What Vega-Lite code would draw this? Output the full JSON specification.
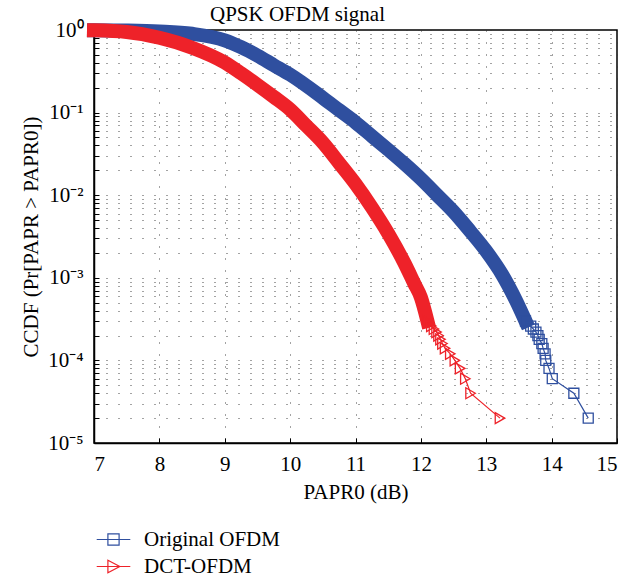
{
  "$schema": "https://vega.github.io/schema/vega-lite/v6.json",
  "width": 523,
  "height": 413,
  "autosize": {"type": "none"},
  "padding": {"left": 94, "top": 30, "right": 26, "bottom": 141},
  "background": "white",
  "config": {
    "font": "Liberation Serif",
    "view": {"stroke": "black", "strokeWidth": 1.5},
    "axis": {
      "domainColor": "black",
      "domainWidth": 1.5,
      "tickColor": "black",
      "tickSize": -5,
      "labelFont": "Liberation Serif",
      "labelFontSize": 21,
      "labelColor": "black",
      "titleFont": "Liberation Serif",
      "titleFontSize": 21,
      "titleFontWeight": "normal",
      "titleColor": "black",
      "grid": true,
      "gridColor": "#333333",
      "gridDash": [1, 11],
      "gridWidth": 1,
      "gridOpacity": 0.9
    }
  },
  "title": {"text": "QPSK OFDM signal", "fontSize": 21, "fontWeight": "normal", "font": "Liberation Serif", "color": "black", "offset": 7, "dy": 13, "dx": -58},
  "datasets": {
    "ccdf": [
      {"series": "Original OFDM", "papr": 7.0, "ccdf": 0.995},
      {"series": "Original OFDM", "papr": 7.5, "ccdf": 0.986},
      {"series": "Original OFDM", "papr": 8.0, "ccdf": 0.96},
      {"series": "Original OFDM", "papr": 8.5, "ccdf": 0.9},
      {"series": "Original OFDM", "papr": 9.0, "ccdf": 0.75},
      {"series": "Original OFDM", "papr": 9.25, "ccdf": 0.62},
      {"series": "Original OFDM", "papr": 9.5, "ccdf": 0.49},
      {"series": "Original OFDM", "papr": 9.75, "ccdf": 0.375},
      {"series": "Original OFDM", "papr": 10.0, "ccdf": 0.288},
      {"series": "Original OFDM", "papr": 10.5, "ccdf": 0.151},
      {"series": "Original OFDM", "papr": 10.75, "ccdf": 0.107},
      {"series": "Original OFDM", "papr": 11.0, "ccdf": 0.076},
      {"series": "Original OFDM", "papr": 11.25, "ccdf": 0.052},
      {"series": "Original OFDM", "papr": 11.5, "ccdf": 0.0355},
      {"series": "Original OFDM", "papr": 11.75, "ccdf": 0.024},
      {"series": "Original OFDM", "papr": 12.0, "ccdf": 0.0158},
      {"series": "Original OFDM", "papr": 12.25, "ccdf": 0.01},
      {"series": "Original OFDM", "papr": 12.5, "ccdf": 0.0063},
      {"series": "Original OFDM", "papr": 12.75, "ccdf": 0.0037},
      {"series": "Original OFDM", "papr": 13.0, "ccdf": 0.0021},
      {"series": "Original OFDM", "papr": 13.25, "ccdf": 0.00107},
      {"series": "Original OFDM", "papr": 13.45, "ccdf": 0.00054},
      {"series": "Original OFDM", "papr": 13.6, "ccdf": 0.0003},
      {"series": "Original OFDM", "papr": 13.68, "ccdf": 0.00026},
      {"series": "Original OFDM", "papr": 13.72, "ccdf": 0.00024},
      {"series": "Original OFDM", "papr": 13.76, "ccdf": 0.00022},
      {"series": "Original OFDM", "papr": 13.79, "ccdf": 0.0002},
      {"series": "Original OFDM", "papr": 13.81, "ccdf": 0.00018},
      {"series": "Original OFDM", "papr": 13.85, "ccdf": 0.00016},
      {"series": "Original OFDM", "papr": 13.87, "ccdf": 0.00014},
      {"series": "Original OFDM", "papr": 13.9, "ccdf": 0.00012},
      {"series": "Original OFDM", "papr": 13.91, "ccdf": 0.0001},
      {"series": "Original OFDM", "papr": 13.96, "ccdf": 0.00008},
      {"series": "Original OFDM", "papr": 14.01, "ccdf": 0.00006},
      {"series": "Original OFDM", "papr": 14.34, "ccdf": 0.00004},
      {"series": "Original OFDM", "papr": 14.56, "ccdf": 0.00002},
      {"series": "DCT-OFDM", "papr": 7.0, "ccdf": 0.99},
      {"series": "DCT-OFDM", "papr": 7.5, "ccdf": 0.946},
      {"series": "DCT-OFDM", "papr": 8.0, "ccdf": 0.805},
      {"series": "DCT-OFDM", "papr": 8.5, "ccdf": 0.611},
      {"series": "DCT-OFDM", "papr": 9.0, "ccdf": 0.404},
      {"series": "DCT-OFDM", "papr": 9.25, "ccdf": 0.299},
      {"series": "DCT-OFDM", "papr": 9.5, "ccdf": 0.217},
      {"series": "DCT-OFDM", "papr": 9.75, "ccdf": 0.155},
      {"series": "DCT-OFDM", "papr": 10.0, "ccdf": 0.109},
      {"series": "DCT-OFDM", "papr": 10.25, "ccdf": 0.069},
      {"series": "DCT-OFDM", "papr": 10.5, "ccdf": 0.0433},
      {"series": "DCT-OFDM", "papr": 10.75, "ccdf": 0.0245},
      {"series": "DCT-OFDM", "papr": 11.0, "ccdf": 0.0137},
      {"series": "DCT-OFDM", "papr": 11.25, "ccdf": 0.0071},
      {"series": "DCT-OFDM", "papr": 11.5, "ccdf": 0.00344},
      {"series": "DCT-OFDM", "papr": 11.75, "ccdf": 0.0015},
      {"series": "DCT-OFDM", "papr": 11.9, "ccdf": 0.00085},
      {"series": "DCT-OFDM", "papr": 12.0, "ccdf": 0.00058},
      {"series": "DCT-OFDM", "papr": 12.1, "ccdf": 0.0003},
      {"series": "DCT-OFDM", "papr": 12.16, "ccdf": 0.00026},
      {"series": "DCT-OFDM", "papr": 12.2, "ccdf": 0.00024},
      {"series": "DCT-OFDM", "papr": 12.24, "ccdf": 0.00022},
      {"series": "DCT-OFDM", "papr": 12.27, "ccdf": 0.0002},
      {"series": "DCT-OFDM", "papr": 12.3, "ccdf": 0.00018},
      {"series": "DCT-OFDM", "papr": 12.33, "ccdf": 0.00016},
      {"series": "DCT-OFDM", "papr": 12.37, "ccdf": 0.00014},
      {"series": "DCT-OFDM", "papr": 12.45, "ccdf": 0.00012},
      {"series": "DCT-OFDM", "papr": 12.52, "ccdf": 0.0001},
      {"series": "DCT-OFDM", "papr": 12.6, "ccdf": 0.00008},
      {"series": "DCT-OFDM", "papr": 12.68, "ccdf": 0.00006},
      {"series": "DCT-OFDM", "papr": 12.76, "ccdf": 0.00004},
      {"series": "DCT-OFDM", "papr": 13.21, "ccdf": 0.00002}
    ]
  },
  "data": {"name": "ccdf"},
  "encoding": {
    "x": {
      "field": "papr",
      "type": "quantitative",
      "scale": {"domain": [7, 15], "nice": false, "zero": false},
      "axis": {"title": "PAPR0 (dB)", "values": [7, 8, 9, 10, 11, 12, 13, 14, 15], "labelPadding": 15, "titlePadding": 7}
    },
    "y": {
      "field": "ccdf",
      "type": "quantitative",
      "scale": {"type": "log", "domain": [0.00001, 1], "nice": false},
      "axis": {
        "title": "CCDF (Pr[PAPR > PAPR0])",
        "titlePadding": 6,
        "labelPadding": 16,
        "labelOverlap": false,
        "values": [0.00001, 0.00002, 0.00003, 0.00004, 0.00005, 0.00006, 0.00007, 0.00008, 0.00009, 0.0001, 0.0002, 0.0003, 0.0004, 0.0005, 0.0006, 0.0007, 0.0008, 0.0009, 0.001, 0.002, 0.003, 0.004, 0.005, 0.006, 0.007, 0.008, 0.009, 0.01, 0.02, 0.03, 0.04, 0.05, 0.06, 0.07, 0.08, 0.09, 0.1, 0.2, 0.3, 0.4, 0.5, 0.6, 0.7, 0.8, 0.9, 1],
        "labelExpr": "abs(log(datum.value)/LN10 - round(log(datum.value)/LN10)) < 1e-6 ? '10' + ['⁰','⁻¹','⁻²','⁻³','⁻⁴','⁻⁵'][-round(log(datum.value)/LN10)] : ''"
      }
    },
    "color": {
      "field": "series",
      "type": "nominal",
      "scale": {"domain": ["Original OFDM", "DCT-OFDM"], "range": ["#2f4f9f", "#ee2229"]},
      "legend": {
        "title": null,
        "orient": "none",
        "legendX": 9,
        "legendY": 499,
        "direction": "vertical",
        "labelFont": "Liberation Serif",
        "labelFontSize": 21,
        "labelColor": "black",
        "symbolSize": 196,
        "symbolStrokeWidth": 1.2,
        "labelOffset": 20,
        "rowPadding": 5,
        "encode": {
          "symbols": {
            "update": {
              "shape": {"signal": "datum.value === 'Original OFDM' ? 'M-2.4,0H2.4M-0.8,-0.8H0.8V0.8H-0.8Z' : 'M-2.4,0H2.4M-0.8,-0.9L0.9,0L-0.8,0.9Z'"},
              "fill": {"value": "transparent"},
              "strokeWidth": {"value": 1.2}
            }
          }
        }
      }
    }
  },
  "layer": [
    {
      "transform": [{"filter": "datum.series === 'Original OFDM' && datum.ccdf >= 0.0003"}],
      "mark": {"type": "line", "strokeWidth": 14, "strokeCap": "square", "strokeJoin": "round", "interpolate": "monotone", "clip": false}
    },
    {
      "transform": [{"filter": "datum.series === 'Original OFDM' && datum.ccdf <= 0.0003"}],
      "mark": {"type": "line", "strokeWidth": 1.2, "clip": false}
    },
    {
      "transform": [{"filter": "datum.series === 'Original OFDM' && datum.ccdf <= 0.0003"}],
      "mark": {"type": "point", "shape": "square", "filled": false, "size": 100, "strokeWidth": 1.3, "opacity": 1, "clip": false}
    },
    {
      "transform": [{"filter": "datum.series === 'DCT-OFDM' && datum.ccdf >= 0.0003"}],
      "mark": {"type": "line", "strokeWidth": 14, "strokeCap": "square", "strokeJoin": "round", "interpolate": "monotone", "clip": false}
    },
    {
      "transform": [{"filter": "datum.series === 'DCT-OFDM' && datum.ccdf <= 0.0003"}],
      "mark": {"type": "line", "strokeWidth": 1.2, "clip": false}
    },
    {
      "transform": [{"filter": "datum.series === 'DCT-OFDM' && datum.ccdf <= 0.0003"}],
      "mark": {"type": "point", "shape": "triangle-right", "filled": false, "size": 120, "strokeWidth": 1.3, "opacity": 1, "clip": false}
    }
  ]
}
